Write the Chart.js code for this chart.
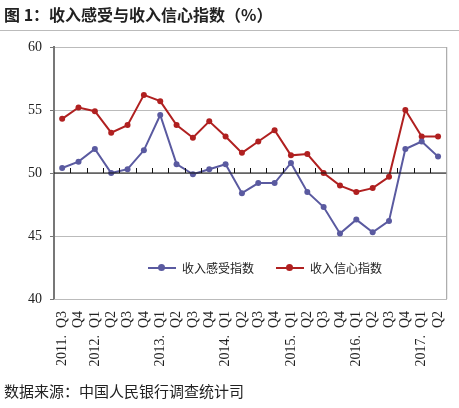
<!DOCTYPE html>
<html><head><meta charset="utf-8">
<script src="https://cdn.jsdelivr.net/npm/chart.js@4.4.0/dist/chart.umd.min.js"></script>
<style>
body{margin:0;width:459px;height:408px;overflow:hidden;background:#fff;position:relative;font-family:"Noto Sans CJK SC",sans-serif}
#t{position:absolute;left:4px;top:2px;font-size:16px;color:#222;font-weight:bold}
#hr{position:absolute;left:0;top:30px;width:459px;height:1px;background:#bbb}
#f{position:absolute;left:4px;top:380px;font-size:15px;color:#222}
#lg{position:absolute;left:148px;top:259px;font-size:12px;color:#222;display:flex;gap:22px}
.it{display:flex;align-items:center;gap:6px}
.mk{position:relative;width:28px;height:2px}
.mk i{position:absolute;left:10px;top:-3px;width:7px;height:7px;border-radius:50%}
canvas{position:absolute;left:0;top:0}
</style></head><body>
<canvas id="c" width="459" height="408"></canvas>
<div id="t">图 1：收入感受与收入信心指数（%）</div>
<div id="hr"></div>
<div id="lg"><span class="it"><span class="mk" style="background:#5a5aa0"><i style="background:#5a5aa0"></i></span>收入感受指数</span><span class="it"><span class="mk" style="background:#b02020"><i style="background:#b02020"></i></span>收入信心指数</span></div>
<div id="f">数据来源：中国人民银行调查统计司</div>
<script>
const categories=["2011.  Q3","Q4","2012.  Q1","Q2","Q3","Q4","2013.  Q1","Q2","Q3","Q4","2014.  Q1","Q2","Q3","Q4","2015.  Q1","Q2","Q3","Q4","2016.  Q1","Q2","Q3","Q4","2017.  Q1","Q2"];
const feel=[50.4,50.9,51.9,50.0,50.3,51.8,54.6,50.7,49.9,50.3,50.7,48.4,49.2,49.2,50.8,48.5,47.3,45.2,46.3,45.3,46.2,51.9,52.5,51.3];
const conf=[54.3,55.2,54.9,53.2,53.8,56.2,55.7,53.8,52.8,54.1,52.9,51.6,52.5,53.4,51.4,51.5,50.0,49.0,48.5,48.8,49.7,55.0,52.9,52.9];
const yTicks=[40,45,50,55,60];
const baseLine={id:'bl',afterDatasetsDraw(ch){const {ctx,chartArea:a,scales:{x,y}}=ch;const yy=y.getPixelForValue(50);ctx.save();
ctx.strokeStyle='#999';ctx.lineWidth=1;ctx.beginPath();ctx.moveTo(a.right+0.5,a.top);ctx.lineTo(a.right+0.5,a.bottom);ctx.stroke();
ctx.strokeStyle='#111';ctx.lineWidth=1.5;ctx.beginPath();ctx.moveTo(a.left,yy);ctx.lineTo(a.right,yy);
const w=(a.right-a.left)/categories.length;for(let i=1;i<categories.length;i++){const px=Math.round(a.left+i*w)+0.5;ctx.moveTo(px,yy);ctx.lineTo(px,yy-5);}ctx.lineWidth=1;ctx.stroke();ctx.restore();}};
new Chart(document.getElementById('c'),{type:'line',
data:{labels:categories,datasets:[
{data:feel,borderColor:'#5a5aa0',backgroundColor:'#5a5aa0',borderWidth:2,pointRadius:3,pointBorderWidth:0,tension:0},
{data:conf,borderColor:'#b02020',backgroundColor:'#b02020',borderWidth:2,pointRadius:3,pointBorderWidth:0,tension:0}]},
options:{responsive:false,animation:false,layout:{padding:{top:47,right:8,left:0,bottom:0}},
plugins:{legend:{display:false},tooltip:{enabled:false}},
scales:{
y:{min:40,max:60,afterBuildTicks(s){s.ticks=yTicks.map(v=>({value:v}));},afterFit(s){s.width=54;},
grid:{color:'#bbb',drawTicks:true,tickLength:4,tickColor:'#777'},border:{color:'#777',width:2},
ticks:{color:'#222',font:{family:'Liberation Serif',size:14},padding:8}},
x:{offset:true,afterFit(s){s.height=109;},grid:{display:false},border:{color:'#bbb'},
ticks:{minRotation:90,maxRotation:90,autoSkip:false,color:'#222',font:{family:'Liberation Serif',size:14},padding:4}}
}},plugins:[baseLine]});
</script></body></html>
